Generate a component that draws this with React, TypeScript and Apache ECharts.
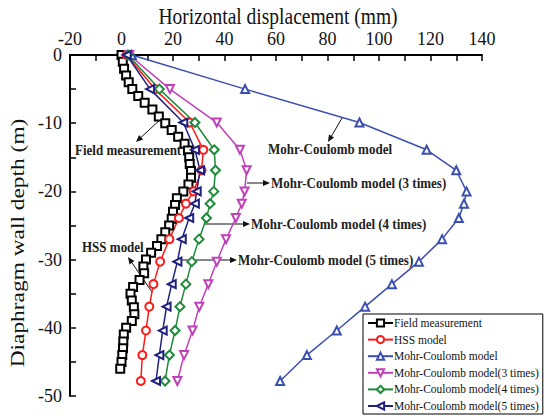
import React, { useEffect, useRef } from "react";
import * as echarts from "echarts";

const modelDepths = [0, -5, -9.9, -13.9, -16.9, -20, -21.8, -23.9, -27, -30.3, -33.6, -36.9, -40.4, -44, -47.8];
const mcValues = [4, 48, 92.4, 118.5, 130, 134, 133, 131, 124.5, 115.5, 105, 94.6, 83.6, 72, 61.6];
const mc3Values = [3, 18.8, 37, 46, 48.6, 47.8, 46.7, 44.4, 40.6, 37, 33.7, 30.2, 27.6, 24.3, 21.7];
const mc4Values = [2.5, 14.7, 28.5, 36, 36.5, 35.8, 34.4, 33, 30.1, 27.3, 25, 22.7, 20.8, 18.6, 16.9];
const mc5Values = [2, 11.1, 24, 28.5, 30.5, 29.2, 28.5, 26.3, 23.4, 21.7, 19.5, 17.5, 16, 14.7, 13.4];
const hssValues = [2, 13, 26.5, 31.8, 31.1, 28, 25, 22.3, 18.6, 15, 12.4, 10.8, 9.5, 8.1, 7.5];

const fieldDepths = [0, -1, -2, -3, -4, -5, -6, -7, -8, -9, -10, -11, -12, -13, -14, -15, -16, -17, -18, -19, -20, -21, -22, -23, -24, -25, -26, -27, -28, -29, -30, -31, -32, -33, -34, -35, -36, -37, -38, -39, -40, -41, -42, -43, -44, -45, -46];
const fieldValues = [0, 0.5, 1, 1.8, 2.8, 4.2, 6.5, 9, 12, 14.5, 17, 19.5, 22, 24.5, 25.8, 26.3, 26.5, 27, 27, 26, 24, 21.5, 20.8, 20, 19.5, 18.5, 17, 15.5, 13.8, 11.5, 9.5, 8.5, 8.8, 7, 4.5, 3.5, 4, 4.8, 5, 4, 1.8, 0.9, 0.7, 0.6, 0.3, 0, -0.5];

const xTicks = [-20, 140, 20];
const yTicks = [-50, 0, 10];

const xTitle = "Horizontal displacement (mm)";
const yTitle = "Diaphragm wall depth (m)";

const seriesNames = [
  "Field measurement",
  "HSS model",
  "Mohr-Coulomb model",
  "Mohr-Coulomb model(3 times)",
  "Mohr-Coulomb model(4 times)",
  "Mohr-Coulomb model(5 times)",
];

const SERIF = "'Liberation Serif', 'DejaVu Serif', serif";

function pairs(xs: number[], ys: number[]) {
  return xs.map((x, i) => [x, ys[i]]);
}

function arrow(x1: number, y1: number, x2: number, y2: number) {
  const ang = Math.atan2(y2 - y1, x2 - x1);
  const L = 7;
  const W = 3;
  const bx = x2 - L * Math.cos(ang);
  const by = y2 - L * Math.sin(ang);
  const px = -Math.sin(ang) * W;
  const py = Math.cos(ang) * W;
  return [
    {
      type: "line",
      shape: { x1, y1, x2: bx, y2: by },
      style: { stroke: "#111", lineWidth: 1 },
      silent: true,
    },
    {
      type: "polygon",
      shape: { points: [[x2, y2], [bx + px, by + py], [bx - px, by - py]] },
      style: { fill: "#111" },
      silent: true,
    },
  ];
}

function label(text: string, x: number, y: number) {
  return {
    type: "text",
    x,
    y,
    scaleY: 1.15,
    style: {
      text,
      font: `bold 13px ${SERIF}`,
      fill: "#222",
      textVerticalAlign: "middle",
      textAlign: "left",
    },
    silent: true,
  };
}

export default function App() {
  const ref = useRef<HTMLDivElement>(null);
  useEffect(() => {
    if (!ref.current) return;
    const chart = echarts.init(ref.current, undefined, { renderer: "svg" });
    const mk = (
      name: string,
      data: number[][],
      color: string,
      symbol: string,
      rotate = 0,
      size = 8,
      lw = 1.5
    ) => ({
      name,
      type: "line",
      data,
      symbol,
      symbolSize: size,
      symbolRotate: rotate,
      showAllSymbol: true,
      lineStyle: { color, width: lw },
      itemStyle: { color, borderWidth: 1.2 },
      z: 3,
    });
    const option: any = {
      animation: false,
      backgroundColor: "#fff",
      grid: { left: 70, top: 55, width: 412, height: 341 },
      xAxis: {
        type: "value",
        position: "top",
        min: xTicks[0],
        max: xTicks[1],
        interval: xTicks[2],
        axisLine: { show: true, onZero: false, lineStyle: { color: "#000", width: 2 } },
        axisTick: { show: true, inside: true, length: 6, lineStyle: { color: "#000", width: 1.5 } },
        minorTick: { show: true, splitNumber: 2, length: 6, lineStyle: { color: "#000", width: 1.5 } },
        axisLabel: { fontFamily: SERIF, fontSize: 18, color: "#111", margin: 7 },
        splitLine: { show: false },
      },
      yAxis: {
        type: "value",
        min: yTicks[0],
        max: yTicks[1],
        interval: yTicks[2],
        axisLine: { show: true, onZero: false, lineStyle: { color: "#000", width: 2 } },
        axisTick: { show: true, inside: true, length: 6, lineStyle: { color: "#000", width: 1.5 } },
        minorTick: { show: true, splitNumber: 2, length: 6, lineStyle: { color: "#000", width: 1.5 } },
        axisLabel: { fontFamily: SERIF, fontSize: 18, color: "#111", margin: 8 },
        splitLine: { show: false },
      },
      legend: {
        orient: "vertical",
        left: 363,
        top: 314,
        data: seriesNames,
        itemWidth: 25,
        itemHeight: 9,
        itemGap: 4.6,
        padding: [3, 4, 2, 4],
        borderColor: "#000",
        borderWidth: 1,
        backgroundColor: "#fff",
        textStyle: { fontFamily: SERIF, fontSize: 11.5, color: "#111", lineHeight: 12, padding: [0, 0, 0, -4] },
      },
      series: [
        mk(seriesNames[0], pairs(fieldValues, fieldDepths), "#000000", "emptyRect", 0, 8, 1),
        mk(seriesNames[1], pairs(hssValues, modelDepths), "#ff1a1a", "emptyCircle"),
        mk(seriesNames[2], pairs(mcValues, modelDepths), "#3b4fae", "emptyTriangle"),
        mk(seriesNames[3], pairs(mc3Values, modelDepths), "#c040b8", "emptyTriangle", 180),
        mk(seriesNames[4], pairs(mc4Values, modelDepths), "#1f8a3a", "emptyDiamond", 0, 9),
        mk(seriesNames[5], pairs(mc5Values, modelDepths), "#20207e", "emptyTriangle", 90),
      ],
      graphic: [
        {
          type: "text",
          x: 278,
          y: 16,
          scaleY: 1.2,
          style: { text: xTitle, font: `19.5px ${SERIF}`, fill: "#111", textAlign: "center", textVerticalAlign: "middle" },
          silent: true,
        },
        {
          type: "text",
          x: 18,
          y: 243,
          rotation: Math.PI / 2,
          scaleX: 1.3,
          style: { text: yTitle, font: `18px ${SERIF}`, fill: "#111", textAlign: "center", textVerticalAlign: "middle" },
          silent: true,
        },
        label("Field measurement", 75, 150),
        ...arrow(162, 118, 136, 142),
        label("HSS model", 82, 247),
        ...arrow(152, 292, 128, 257),
        label("Mohr-Coulomb model", 268, 149),
        ...arrow(342, 118, 328, 142),
        label("Mohr-Coulomb model (3 times)", 271, 183),
        ...arrow(247, 183, 270, 183),
        label("Mohr-Coulomb model (4 times)", 251, 224),
        ...arrow(205, 224, 250, 224),
        label("Mohr-Coulomb model (5 times)", 238, 260),
        ...arrow(177, 260, 237, 260),
      ],
    };
    chart.setOption(option);
    return () => chart.dispose();
  }, []);
  return (
    <div
      ref={ref}
      style={{ position: "fixed", left: 0, top: 0, width: 544, height: 418, background: "#fff" }}
    />
  );
}
